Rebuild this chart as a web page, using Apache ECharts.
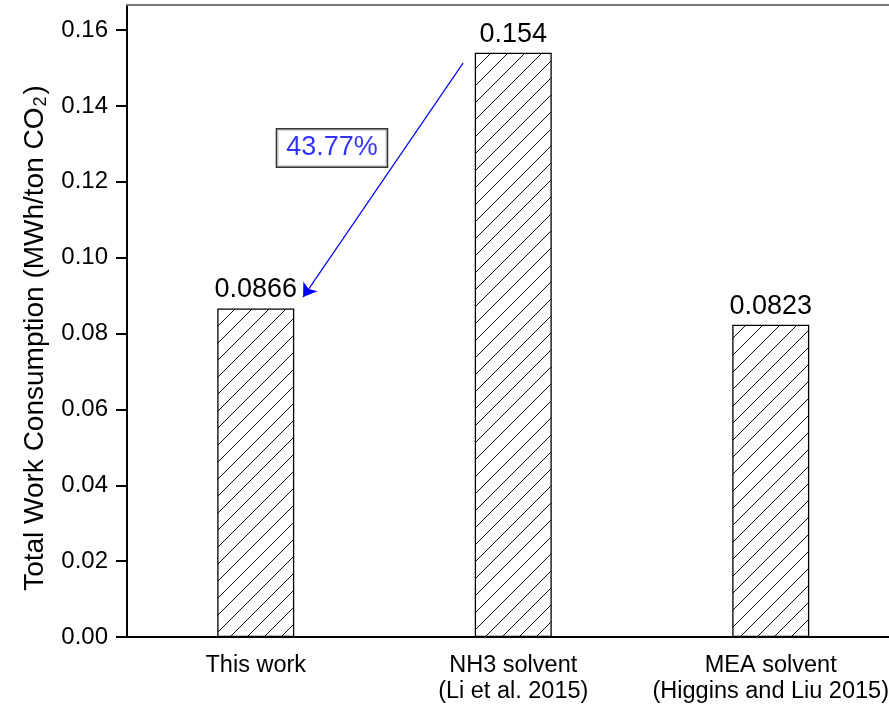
<!DOCTYPE html>
<html>
<head>
<meta charset="utf-8">
<script src="https://cdn.jsdelivr.net/npm/echarts@6/dist/echarts.min.js"></script>
<style>
  html, body { margin: 0; padding: 0; background: #fff; }
  #chart { width: 889px; height: 710px; }
</style>
</head>
<body>
<div id="chart"></div>
<script>
  // data
  const categories = ['This work', 'NH3 solvent\n(Li et al. 2015)', 'MEA solvent\n(Higgins and Liu 2015)'];
  const workValues = [0.0866, 0.154, 0.0823];
  const yMajorTicks = [0, 0.02, 0.04, 0.06, 0.08, 0.10, 0.12, 0.14, 0.16];
  const yMinorTicks = [0.01, 0.03, 0.05, 0.07, 0.09, 0.11, 0.13, 0.15];
  const yMax = 0.1666;

  // annotation, x in category-index units
  const arrowStart = [0.805, 0.1513];
  const arrowEnd = [0.184, 0.0896];
  const reductionLabelAt = [0.296, 0.1289];
  const reductionText = '43.77%';

  const FONT = 'Liberation Sans, Arial, sans-serif';

  // 斜线填充
  const hatch = () => {
    const s = 17;
    const c = document.createElement('canvas');
    c.width = s;
    c.height = s;
    const ctx = c.getContext('2d');
    ctx.fillStyle = '#fff';
    ctx.fillRect(0, 0, s, s);
    ctx.strokeStyle = '#111';
    ctx.lineWidth = 1;
    ctx.beginPath();
    ctx.moveTo(0, s);
    ctx.lineTo(s, 0);
    ctx.moveTo(-2, 2);
    ctx.lineTo(2, -2);
    ctx.moveTo(s - 2, s + 2);
    ctx.lineTo(s + 2, s - 2);
    ctx.stroke();
    return c;
  };

  const chart = echarts.init(document.getElementById('chart'));

  const option = {
    animation: false,
    textStyle: { fontFamily: FONT },
    grid: {
      left: 127,
      top: 5,
      width: 772.5,
      height: 632,
      containLabel: false,
      outerBoundsMode: 'none',
    },
    xAxis: [
      {
        type: 'category',
        data: categories,
        position: 'bottom',
        axisLine: { lineStyle: { color: '#000', width: 2 } },
        axisTick: { alignWithLabel: true, length: 12, lineStyle: { color: '#000', width: 2 } },
        axisLabel: {
          interval: 0,
          margin: 16,
          fontSize: 23.5,
          lineHeight: 26,
          color: '#000',
          fontFamily: FONT,
        },
        splitLine: { show: false },
      },
      {
        // 类别边界的小刻度
        type: 'category',
        data: categories,
        position: 'bottom',
        axisLine: { show: false },
        axisTick: { length: 5, lineStyle: { color: '#000', width: 2 } },
        axisLabel: { show: false },
        splitLine: { show: false },
      },
      {
        type: 'category',
        data: categories,
        position: 'top',
        axisLine: { onZero: false, lineStyle: { color: '#777', width: 2 } },
        axisTick: { show: false },
        axisLabel: { show: false },
        splitLine: { show: false },
      },
      {
        // hidden axis used for the annotation
        type: 'value',
        min: -0.5,
        max: 2.5,
        show: false,
      },
    ],
    yAxis: [
      {
        type: 'value',
        min: 0,
        max: yMax,
        interval: 0.02,
        name: '{a|Total Work Consumption (MWh/ton CO}{s|2}{a|)}',
        nameLocation: 'middle',
        nameGap: 77,
        nameTextStyle: {
          padding: [0, 34, 0, 0],
          rich: {
            a: { fontSize: 28, color: '#000', fontFamily: FONT },
            s: { fontSize: 18, color: '#000', fontFamily: FONT, verticalAlign: 'bottom', padding: [12, 2, 0, 1] },
          },
        },
        axisLine: { show: true, onZero: false, lineStyle: { color: '#000', width: 2 } },
        axisTick: { show: true, customValues: yMajorTicks, length: 11, lineStyle: { color: '#000', width: 2 } },
        axisLabel: {
          customValues: yMajorTicks,
          formatter: (v) => v.toFixed(2),
          fontSize: 24,
          margin: 19,
          color: '#000',
          fontFamily: FONT,
        },
        splitLine: { show: false },
      },
      {
        type: 'value',
        min: 0,
        max: yMax,
        interval: 0.02,
        axisLine: { show: false, onZero: false },
        axisTick: { show: true, customValues: yMinorTicks, length: 6, lineStyle: { color: '#000', width: 2 } },
        axisLabel: { show: false },
        splitLine: { show: false },
      },
    ],
    series: [
      {
        name: 'work',
        type: 'bar',
        xAxisIndex: 0,
        yAxisIndex: 0,
        data: workValues,
        barWidth: 77,
        itemStyle: {
          color: { image: hatch(), repeat: 'repeat' },
          borderColor: '#000',
          borderWidth: 1.3,
        },
        label: {
          show: true,
          position: 'top',
          distance: 5,
          fontSize: 27,
          color: '#000',
          fontFamily: FONT,
        },
      },
      {
        type: 'lines',
        coordinateSystem: 'cartesian2d',
        xAxisIndex: 3,
        yAxisIndex: 0,
        symbol: ['none', 'arrow'],
        symbolSize: 13,
        lineStyle: { color: '#0000ff', width: 1.2, opacity: 1, curveness: 0 },
        data: [{ coords: [arrowStart, arrowEnd] }],
        silent: true,
        z: 5,
      },
      {
        type: 'scatter',
        xAxisIndex: 3,
        yAxisIndex: 0,
        symbolSize: 0,
        data: [reductionLabelAt],
        silent: true,
        label: {
          show: true,
          position: 'inside',
          formatter: reductionText,
          color: '#0000ff',
          fontSize: 27,
          fontFamily: FONT,
          backgroundColor: '#fff',
          borderColor: '#000',
          borderWidth: 1.5,
          padding: [5, 9, 5, 9],
        },
        z: 6,
      },
    ],
  };

  chart.setOption(option);
</script>
</body>
</html>
